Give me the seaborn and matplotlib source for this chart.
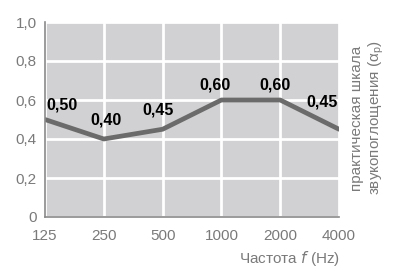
import matplotlib
matplotlib.use("Agg")
import matplotlib.pyplot as plt
import seaborn as sns
import pandas as pd

frequencies = ["125", "250", "500", "1000", "2000", "4000"]
absorption = [0.50, 0.40, 0.45, 0.60, 0.60, 0.45]
value_labels = ["0,50", "0,40", "0,45", "0,60", "0,60", "0,45"]
y_ticks = [0, 0.2, 0.4, 0.6, 0.8, 1.0]
y_tick_labels = ["0", "0,2", "0,4", "0,6", "0,8", "1,0"]

sns.set_theme(style="white")
plt.rcParams['font.family'] = ['Liberation Sans Narrow', 'Liberation Sans', 'DejaVu Sans']

df = pd.DataFrame({"idx": range(len(frequencies)), "val": absorption})

fig = plt.figure(figsize=(3.98, 2.71), dpi=100)
ax = fig.add_axes([45/398, 1 - 217/271, (339 - 45)/398, (217 - 22)/271])
ax.set_facecolor("#d1d1d3")

sns.lineplot(data=df, x="idx", y="val", ax=ax, color="#6b6b6b", linewidth=3.4)

ax.set_xlim(0, len(frequencies) - 1)
ax.set_ylim(0, 1.0)
ax.set_xticks(range(len(frequencies)))
ax.set_xticklabels(frequencies)
ax.set_yticks(y_ticks)
ax.set_yticklabels(y_tick_labels)
ax.grid(True, color="white", linewidth=2)
ax.set_axisbelow(True)
ax.tick_params(axis="both", length=0, labelsize=11, colors="#7a7a7a", pad=6)
ax.tick_params(axis="x", pad=9)

for s in ["top", "right"]:
    ax.spines[s].set_visible(False)
for s in ["left", "bottom"]:
    ax.spines[s].set_color("#8a8a8a")
    ax.spines[s].set_linewidth(1.2)

offsets = [(17, 14), (2, 19), (-5, 19), (-6, 15), (-5, 15), (-17, 27)]
for i, (v, lab) in enumerate(zip(absorption, value_labels)):
    ax.annotate(lab, (i, v), xytext=offsets[i], textcoords="offset pixels",
                ha="center", va="center", fontsize=11.5, fontweight="bold", color="black")

ax.set_xlabel("")
ax.set_ylabel("")
fig.text(340/398, 1 - 258/271, "Частота $\\it{f}$ (Hz)", ha="right", va="center",
         fontsize=11, color="#7a7a7a")
fig.text(368/398, 1 - 118/271, "практическая шкала\nзвукопоглощения (α$_\\mathregular{p}$)",
         rotation=90, ha="center", va="center", fontsize=11, color="#7a7a7a",
         linespacing=1.15)

fig.savefig("out.png", dpi=100)
